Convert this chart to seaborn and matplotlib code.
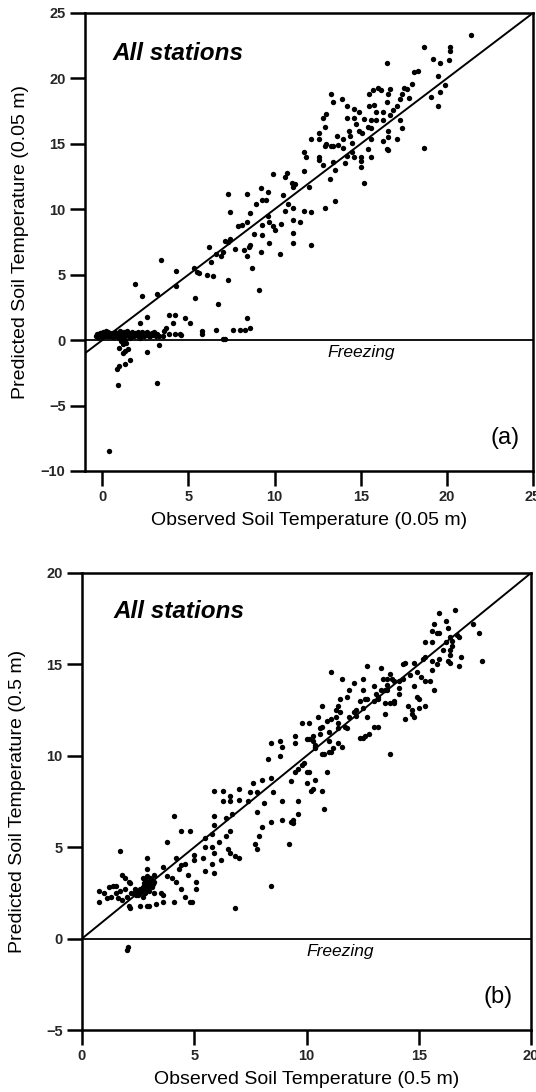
import numpy as np
import pandas as pd
import matplotlib
matplotlib.use("Agg")
import matplotlib.pyplot as plt
import seaborn as sns

# ---------------- Panel (a): 0.05 m ----------------
a_cluster = [(-0.35,0.3),(-0.3,0.45),(-0.25,0.25),(-0.2,0.4),(-0.15,0.55),(-0.1,0.3),(-0.05,0.45),(0.0,0.35),
             (0.05,0.6),(0.1,0.3),(0.12,0.5),(0.18,0.4),(0.2,0.7),(0.25,0.3),(0.3,0.5),(0.35,0.6),(0.4,0.35),
             (0.45,0.45),(0.5,0.3),(0.55,0.55),(0.6,0.4),(0.65,0.3),(0.7,0.5),(0.75,0.65),(0.8,0.35),(0.85,0.45),
             (0.9,0.3),(0.95,0.55),(1.0,0.4),(1.05,0.7),(1.1,0.3),(1.15,0.5),(1.2,0.35),(1.25,0.6),(1.3,0.45),
             (1.35,0.3),(1.4,0.55),(1.45,0.7),(1.5,0.4),(1.55,0.3),(1.6,0.5),(1.7,0.35),(1.75,0.6),(1.8,0.45),
             (1.85,0.3),(1.9,0.55),(2.0,0.4),(2.05,0.65),(2.1,0.3),(2.15,0.5),(2.2,0.35),(2.3,0.6),(2.35,0.45),
             (2.4,0.3),(2.5,0.55),(2.55,0.4),(2.6,0.65),(2.7,0.35),(2.75,0.5),(2.8,0.3),(2.9,0.55),(2.95,0.4),
             (3.0,0.6),(3.1,0.3),(3.2,0.45),(3.3,0.35),(0.6,0.25),(1.0,0.2),(1.6,0.2),(2.2,0.2),(1.2,-0.3),
             (1.4,-0.2),(1.3,0.0),(1.1,-0.1),(3.6,0.7),(3.9,0.5),(4.2,0.5),(4.5,0.45),(4.6,0.4),(3.5,0.3)]
a_negative = [(1.0,-0.6),(1.3,-0.8),(1.5,-0.7),(1.2,-1.0),(2.6,-0.9),(3.3,-0.4),(0.85,-2.2),(1.0,-2.0),
              (1.3,-1.8),(1.6,-1.5),(0.9,-3.4),(3.2,-3.3),(0.4,-8.5)]
a_low = [(1.9,4.3),(2.3,3.4),(3.2,3.5),(3.4,6.1),(4.3,5.3),(4.3,4.1),(2.6,1.8),(2.2,1.3),(3.9,1.9),(4.2,1.9),
         (4.1,1.3),(3.7,0.9),(4.8,1.7),(5.1,1.3),(5.4,3.2),(5.3,5.5),(5.5,5.2),(5.6,5.1),(6.2,7.1),(6.1,5.0),
         (6.4,4.9),(6.3,6.0),(6.6,6.6),(6.9,6.4),(7.0,6.7),(7.3,7.5),(7.1,7.6),(7.4,7.7),(7.3,4.6),(6.7,2.8),
         (7.3,11.2),(7.4,9.8),(5.8,0.7),(5.8,0.5),(6.6,0.8),(7.0,0.1),(7.1,0.1),(7.6,0.8),(8.0,0.8),(8.3,0.8),
         (8.6,0.9),(8.4,1.7),(7.7,7.0),(8.2,6.9),(8.5,7.1),(8.4,6.4),(8.7,5.5),(9.1,3.8),(9.2,6.7),(8.6,7.3),
         (8.8,8.1),(9.3,8.0),(9.7,7.4),(10.3,6.6),(7.9,8.7),(8.1,8.8),(8.4,9.0),(8.6,9.7),(8.9,10.4),(8.4,11.2),
         (9.2,11.6),(9.3,10.7),(9.6,11.3),(9.3,8.8),(9.6,9.5),(9.9,8.7),(10.0,8.4),(9.7,9.0),(9.9,12.7),
         (10.4,8.9),(9.5,10.7)]
a_high = [(21.4,23.3),(18.7,22.4),(20.2,22.4),(20.2,22.1),(16.5,21.2),(19.2,21.5),(19.6,21.2),(20.1,21.4),
          (18.3,20.6),(18.1,20.5),(19.5,20.2),(18.0,19.6),(19.9,19.5),(19.6,19.0),(19.1,18.6),(19.5,17.9),
          (18.7,14.7),(13.3,18.8),(13.4,18.2),(13.9,18.4),(14.2,17.9),(14.6,17.7),(14.9,17.4),(12.8,17.0),
          (13.0,17.3),(14.2,17.0),(14.6,17.0),(15.2,16.9),(14.7,16.5),(12.9,16.3),(12.6,15.8),(12.1,15.4),
          (12.6,15.4),(13.6,15.6),(14.0,15.4),(14.3,16.0),(14.4,15.6),(14.9,16.0),(15.1,15.8),(15.4,16.3),
          (15.6,16.8),(15.6,16.2),(15.9,16.8),(15.5,18.8),(15.7,19.1),(16.0,19.3),(16.2,19.1),(15.5,17.9),
          (15.8,18.0),(15.9,17.4),(16.6,18.8),(16.7,19.2),(16.5,18.2),(16.3,17.4),(16.3,16.8),(16.7,17.2),
          (16.9,17.6),(17.1,17.9),(17.3,18.4),(17.4,18.8),(17.5,19.3),(17.7,19.2),(17.8,18.5),(17.3,16.8),
          (17.4,16.2),(17.1,15.4),(16.6,16.0),(16.6,15.5),(16.3,15.2),(16.5,14.6),(16.6,14.5),(15.6,15.4),
          (15.4,14.6),(15.6,14.0),(15.0,14.0),(15.0,13.2),(15.2,12.0),(14.5,14.4),(14.6,14.0),(14.2,14.1),
          (14.1,13.5),(14.0,14.7),(13.7,14.9),(13.4,14.8),(13.3,14.8),(13.0,15.0),(12.9,14.8),(12.6,14.0),
          (12.6,13.8),(12.8,13.4),(13.4,13.6),(13.5,13.0),(13.2,12.3),(13.5,10.6),(12.9,10.1),(11.7,14.4),
          (11.8,14.0),(11.7,12.9),(12.0,11.7),(12.1,9.8),(11.7,9.9),(11.1,11.7),(11.2,11.9),(11.0,12.0),
          (10.7,12.8),(10.6,12.5),(10.5,11.1),(10.8,10.4),(11.1,10.1),(11.1,9.2),(11.5,9.0),(11.1,8.2),
          (10.6,9.9),(11.1,7.4),(12.1,7.3),(15.0,13.7),(14.5,15.1)]

# ---------------- Panel (b): 0.5 m ----------------
b_low = [(1.7,4.8),(0.77,2.6),(0.77,2.0),(1.1,2.2),(1.2,2.8),(1.4,2.9),(1.5,2.9),(1.5,2.5),(1.7,2.6),(1.3,2.3),
         (1.6,2.2),(1.8,2.1),(1.8,3.5),(1.9,3.3),(2.1,3.1),(2.15,3.05),(2.1,1.8),(2.15,1.7),(2.3,2.5),(2.4,2.4),
         (2.6,2.5),(2.6,1.8),(2.7,3.3),(2.7,2.8),(2.8,3.0),(2.9,2.9),(2.9,2.7),(3.0,3.0),(3.1,3.2),(2.9,4.4),
         (2.9,3.8),(3.2,3.5),(2.8,2.5),(2.7,2.3),(2.9,1.8),(3.0,1.8),(3.2,2.5),(3.3,1.9),(3.5,2.5),(3.6,2.4),
         (3.6,2.0),(3.6,3.9),(3.8,3.4),(4.0,3.3),(4.1,2.0),(3.8,5.3),(4.1,6.7),(4.2,4.4),(4.3,3.8),(4.2,3.1),
         (4.4,2.7),(4.6,2.3),(4.4,4.0),(4.6,4.1),(4.4,5.9),(4.8,5.9),(4.7,3.5),(4.8,2.0),(4.9,2.0),(5.0,4.6),
         (5.0,4.3),(5.1,3.1),(5.1,2.7),(5.4,4.4),(5.5,3.7),(5.5,5.0),(5.8,5.0),(5.9,3.6),(5.8,4.1),(5.9,4.7),
         (5.5,5.5),(5.8,5.7),(5.9,6.2),(5.9,6.7),(5.9,8.1),(6.1,5.3),(6.2,4.3),(6.3,8.1),(6.3,7.5),(6.4,6.6),
         (6.4,5.6),(6.5,4.9),(6.6,4.7),(6.8,4.5),(6.8,1.7),(6.6,7.8),(6.6,7.5),(6.6,5.9),(6.7,6.8),(7.0,8.2),
         (7.0,7.6),(7.0,4.4),(7.4,7.5),(8.4,2.9),(9.2,5.2),(2.0,-0.6),(2.05,-0.45),(7.7,5.2),(7.8,4.9)]
b_cluster = [(2.8,3.2),(2.9,3.4),(3.0,2.6),(3.1,2.8),(2.7,2.6),(2.85,2.8),(3.05,3.3),(2.95,3.1),(3.15,3.0),
             (2.75,3.05),(3.0,2.9),(2.6,2.7),(2.5,2.4),(2.45,2.6),(3.2,3.1),(1.0,2.5),(1.9,2.7),(2.0,2.3),
             (2.2,2.5),(2.35,2.7)]
b_high = [(16.6,18.0),(15.9,17.8),(15.7,17.2),(16.2,17.4),(16.3,17.0),(15.6,16.8),(15.8,16.7),(15.9,16.7),
          (16.4,16.5),(16.7,16.6),(16.8,16.5),(17.4,17.2),(17.7,16.7),(15.3,16.2),(15.6,16.2),(16.2,16.2),
          (16.5,16.3),(16.5,16.0),(16.4,15.8),(16.1,15.8),(16.4,15.5),(16.9,15.4),(17.8,15.2),(16.3,15.2),
          (16.4,15.1),(16.8,14.9),(15.9,15.3),(15.6,15.2),(15.6,14.7),(15.3,15.4),(15.2,15.3),(15.8,15.0),
          (14.8,15.1),(14.4,15.1),(14.3,15.0),(14.9,14.6),(15.1,14.3),(15.3,14.1),(15.5,14.1),(14.6,14.4),
          (14.3,14.2),(14.1,14.1),(13.9,14.1),(14.1,13.7),(13.8,14.2),(13.7,14.5),(13.3,14.8),(13.6,14.2),
          (13.4,14.2),(13.6,13.9),(13.6,13.6),(13.5,13.6),(14.8,13.8),(14.9,13.2),(15.0,13.1),(15.3,12.7),
          (15.0,12.6),(15.7,13.6),(14.1,13.4),(13.9,13.0),(13.9,12.9),(13.5,12.9),(13.7,12.9),(13.5,12.3),
          (14.5,12.7),(14.7,12.5),(14.7,12.3),(14.8,12.1),(14.4,12.0),(13.7,10.1),(12.7,14.9),(12.5,14.2),
          (12.1,14.0),(11.9,13.6),(11.6,14.2),(11.1,14.6),(13.3,13.6),(13.0,13.8),(13.1,13.4),(13.2,13.2),
          (13.2,13.1),(13.0,13.0),(12.7,13.1),(12.6,13.1),(12.5,13.6),(12.4,13.0),(12.7,12.1),(12.5,12.6),
          (12.2,12.5),(12.1,12.4),(12.2,12.2),(11.9,12.1),(11.8,13.2),(11.5,13.1),(11.4,12.7),(11.5,12.4),
          (11.3,12.5),(11.3,12.1),(11.4,11.8),(11.1,12.0),(10.9,11.9),(10.7,12.7),(10.5,12.1),(10.7,11.6),
          (10.6,11.5),(11.0,11.3),(11.4,11.5),(11.7,11.6),(11.8,11.5),(9.8,11.8),(10.1,11.8),(11.0,10.8),
          (11.4,10.7),(11.6,10.5),(11.2,10.4),(11.1,10.2),(11.0,10.2),(10.8,10.1),(10.7,10.1),(12.5,11.0),
          (12.4,11.0),(12.6,11.1),(12.8,11.2),(13.0,11.6),(13.2,11.6),(10.6,11.2),(10.3,11.1),(10.1,10.9),
          (10.0,10.9),(10.3,10.8),(10.4,10.6),(10.4,10.5),(10.4,10.4),(9.5,11.1),(9.5,10.7),(9.9,9.6),
          (9.8,9.5),(9.6,9.3),(9.5,9.1),(10.1,9.1),(10.0,8.5),(10.9,9.1),(10.4,8.7),(10.3,8.2),(10.2,8.1),
          (10.7,8.1),(10.8,7.1),(9.6,7.5),(9.6,6.8),(9.4,6.5),(9.3,6.4),(9.4,6.3),(8.9,10.5),(8.4,10.7),
          (8.8,10.8),(8.8,10.0),(8.3,9.8),(8.4,8.8),(8.0,8.7),(7.6,8.5),(7.8,8.0),(8.5,8.0),(8.9,7.5),
          (8.1,7.4),(7.8,6.9),(8.4,6.4),(8.9,6.5),(9.3,8.6),(10.0,9.1),(7.5,8.0),(7.9,5.6),(8.0,6.1)]

a_pts = np.array(a_cluster + a_negative + a_low + a_high)
b_pts = np.array(b_low + b_cluster + b_high)
df_a = pd.DataFrame({"obs": a_pts[:, 0], "pred": a_pts[:, 1]})
df_b = pd.DataFrame({"obs": b_pts[:, 0], "pred": b_pts[:, 1]})

a_xticks = [0, 5, 10, 15, 20, 25]
a_yticks = [-10, -5, 0, 5, 10, 15, 20, 25]
b_xticks = [0, 5, 10, 15, 20]
b_yticks = [-5, 0, 5, 10, 15, 20]

sns.set_theme(style="white")
plt.rcParams['font.family'] = ['Liberation Sans', 'DejaVu Sans']

W, H = 536, 1092
fig = plt.figure(figsize=(W / 100, H / 100), dpi=100)


def make_ax(l, r, t, b):
    return fig.add_axes([l / W, 1 - b / H, (r - l) / W, (b - t) / H])


ax1 = make_ax(85, 533, 13, 471)
ax2 = make_ax(82, 531, 573, 1030)

panels = [
    (ax1, df_a, (-1, 25), (-10, 25), a_xticks, a_yticks, "(0.05 m)", "(a)", (0.6, 21.9), (13.1, -0.35), (24.2, -7.5)),
    (ax2, df_b, (0, 20), (-5, 20), b_xticks, b_yticks, "(0.5 m)", "(b)", (1.4, 17.9), (10.0, -0.3), (19.2, -3.2)),
]

for ax, df, xl, yl, xt, yt, depth, tag, allpos, frzpos, tagpos in panels:
    sns.scatterplot(data=df, x="obs", y="pred", ax=ax, color="black", s=15,
                    linewidth=0, zorder=3)
    ax.axline((0, 0), slope=1, color="black", lw=1.4, zorder=2)
    ax.axhline(0, color="black", lw=1.3, zorder=2)
    ax.set_xlim(*xl)
    ax.set_ylim(*yl)
    ax.set_xticks(xt)
    ax.set_yticks(yt)
    for s in ax.spines.values():
        s.set_linewidth(1.8)
        s.set_color("black")
    ax.tick_params(direction="out", length=11, width=1.8, color="black",
                   labelsize=10, pad=3, bottom=True, left=True)
    for lbl in ax.get_xticklabels() + ax.get_yticklabels():
        lbl.set_fontweight("bold")
        lbl.set_family(['Liberation Sans Narrow', 'Liberation Sans', 'DejaVu Sans'])
        lbl.set_fontsize(10.5)
    ax.set_xlabel(f"Observed Soil Temperature {depth}", fontsize=14, color="black")
    ax.set_ylabel(f"Predicted Soil Temperature {depth}", fontsize=14, color="black")
    ax.xaxis.set_label_coords(0.5, -0.09)
    ax.yaxis.set_label_coords(-0.125, 0.5)
    ax.text(*allpos, "All stations", fontsize=17.5, fontweight="bold", fontstyle="italic",
            ha="left", va="center", color="black")
    ax.text(*frzpos, "Freezing", fontsize=12.5, fontstyle="italic", ha="left", va="top",
            color="black")
    ax.text(*tagpos, tag, fontsize=17, ha="right", va="center", color="black")
    ax.set_facecolor("white")

fig.savefig("out.png", dpi=100, facecolor="white")
